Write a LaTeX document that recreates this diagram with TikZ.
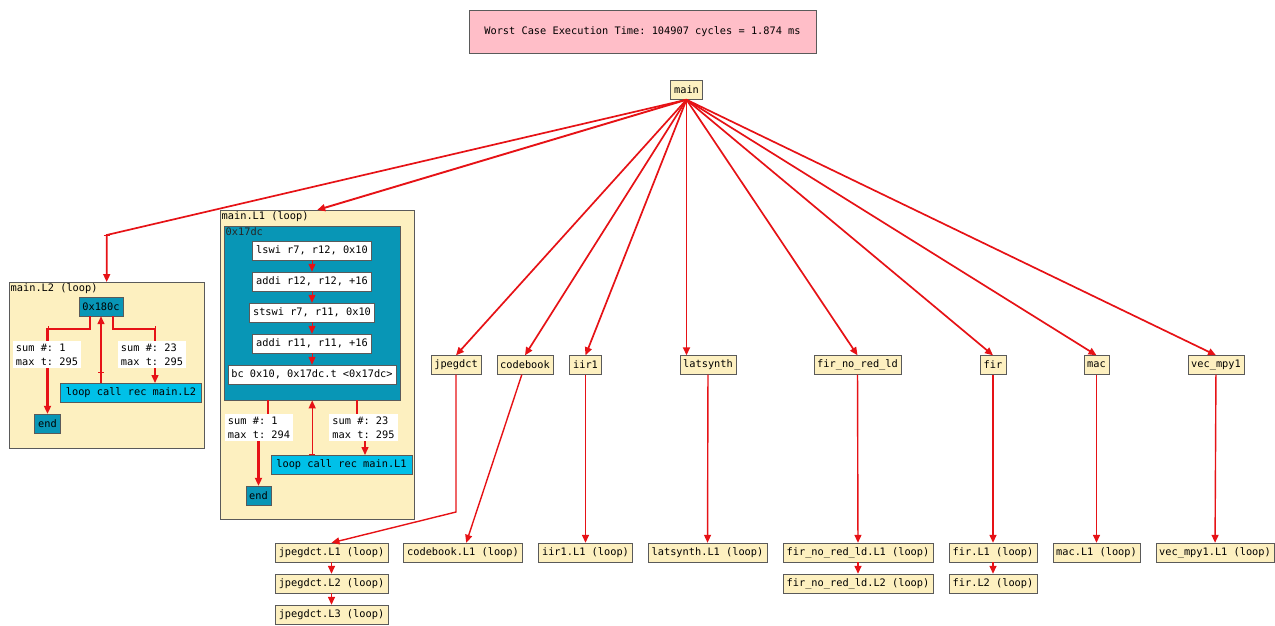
\documentclass[tikz,border=0pt]{standalone}
\usepackage{fontspec}
\setmonofont{DejaVu Sans Mono}
\usetikzlibrary{arrows.meta,positioning}
\definecolor{edgered}{RGB}{230,18,22}
\definecolor{boxyellow}{RGB}{253,240,192}
\definecolor{boxgray}{RGB}{90,90,90}
\definecolor{bbteal}{RGB}{8,150,182}
\definecolor{callcyan}{RGB}{0,192,232}
\definecolor{titlepink}{RGB}{255,190,200}
\begin{document}
\begin{tikzpicture}[x=1pt, y=-1pt, node distance=31pt,
    every node/.style={font=\ttfamily\fontsize{10.3}{12.5}\selectfont},
    fn/.style={rectangle, draw=boxgray, fill=boxyellow, minimum height=19pt, inner xsep=3.5pt, inner ysep=0pt},
    instr/.style={rectangle, draw=boxgray, fill=white, minimum height=19pt, inner xsep=3.5pt, inner ysep=0pt},
    bblock/.style={rectangle, draw=boxgray, fill=bbteal, minimum height=19pt, inner xsep=3.5pt, inner ysep=0pt},
    callrec/.style={rectangle, draw=boxgray, fill=callcyan, minimum height=19pt, inner xsep=5.5pt, inner ysep=0pt},
    cluster/.style={rectangle, draw=boxgray, fill=boxyellow, anchor=north west, inner sep=0pt},
    clusterlbl/.style={anchor=north west, inner sep=1.5pt},
    sumlbl/.style={rectangle, fill=white, align=left, inner xsep=3pt, inner ysep=2.5pt, font=\ttfamily\fontsize{10.3}{14}\selectfont},
    redline/.style={draw=edgered, line width=1.4pt},
    redarrow/.style={redline, -{Triangle[length=8pt,width=7pt]}}]
    \useasboundingbox (0,0) rectangle (1275,625);

    % title and root
    \node[rectangle, draw=boxgray, fill=titlepink, minimum width=347pt, minimum height=43pt](wcet) at (642.5,31.5){Worst Case Execution Time: 104907 cycles = 1.874 ms};
    \node[fn](main) at (686.5,90){main};

    % functions and their loops
    \foreach \n/\x/\t in {jpegdct/456/jpegdct, codebook/525/codebook, iir1/585.5/iir1, latsynth/708/latsynth, fir_no_red_ld/857.5/fir\_no\_red\_ld, fir/993/fir, mac/1096.5/mac, vec_mpy1/1216/vec\_mpy1}{
        \node[fn](\n) at (\x,365){\t};}
    \foreach \n/\x/\t in {jpegdct/331.5/jpegdct, codebook/463/codebook, iir1/585.5/iir1, latsynth/707.5/latsynth, fir_no_red_ld/858/fir\_no\_red\_ld, fir/993/fir, mac/1096.5/mac, vec_mpy1/1215/vec\_mpy1}{
        \node[fn](\n L1) at (\x,552.5){\t.L1 (loop)};}
    \node[fn](jpegdctL2)[below of=jpegdctL1]{jpegdct.L2 (loop)};
    \node[fn](jpegdctL3)[below of=jpegdctL2]{jpegdct.L3 (loop)};
    \node[fn](fir_no_red_ldL2)[below of=fir_no_red_ldL1]{fir\_no\_red\_ld.L2 (loop)};
    \node[fn](firL2)[below of=firL1]{fir.L2 (loop)};

    % main.L2 cluster
    \node[cluster, minimum width=195pt, minimum height=166pt](L2) at (9,282){};
    \node[clusterlbl](L2lbl) at (L2.north west){main.L2 (loop)};
    \node[bblock](n180c) at (101,306.5){0x180c};
    \node[bblock](endL2) at (47.5,423.5){end};
    \node[callrec](callL2) at (131,392.5){loop call rec main.L2};
    \coordinate (L2bend) at (L2.north |- 0,235);
    \coordinate (L2outa) at (90,316);
    \coordinate (L2outb) at (113,316);
    \coordinate (L2inb) at (155,383);
    \coordinate (L2back) at (n180c.south |- 0,372);

    % main.L1 cluster
    \node[cluster, minimum width=194pt, minimum height=309pt](L1) at (220,210){};
    \node[clusterlbl](L1lbl) at (L1.north west){main.L1 (loop)};
    \node[cluster, fill=bbteal, minimum width=176pt, minimum height=174pt](bb17dc) at (224,226){};
    \node[clusterlbl, text=black!85](bb17dclbl) at (bb17dc.north west){0x17dc};
    \node[instr](i1) at (312,250.5){lswi r7, r12, 0x10};
    \node[instr](i2)[below of=i1]{addi r12, r12, +16};
    \node[instr](i3)[below of=i2]{stswi r7, r11, 0x10};
    \node[instr](i4)[below of=i3]{addi r11, r11, +16};
    \node[instr](i5)[below of=i4]{bc 0x10, 0x17dc.t <0x17dc>};
    \node[bblock](endL1) at (258.5,495.5){end};
    \node[callrec](callL1) at (341.5,464.5){loop call rec main.L1};
    \coordinate (L1outa) at (268,400);
    \coordinate (L1outb) at (357,400);
    \coordinate (L1inb) at (365,455);
    \coordinate (L1back) at (bb17dc.south |- 0,454);

% call edges
\draw[redarrow, line width=1.7pt] (main.south) -- (L2bend) -- (L2.north);
\draw[redarrow, line width=1.9pt] (main.south) -- (L1.north);
\foreach \n in {jpegdct, codebook, iir1, fir_no_red_ld, fir, mac, vec_mpy1}{
    \draw[redarrow, line width=1.7pt] (main.south) -- (\n.north);}
\draw[redarrow, line width=1.7pt] (main) -- (main.south |- latsynth.north);
\draw[redarrow] (jpegdct.south) -- (jpegdct.south |- 0,512) -- (jpegdctL1.north);
\foreach \n in {codebook, iir1, latsynth, fir_no_red_ld, fir, mac, vec_mpy1}{
    \draw[redarrow] (\n) -- (\n L1);}
\foreach \s/\t in {jpegdctL1/jpegdctL2, jpegdctL2/jpegdctL3, fir_no_red_ldL1/fir_no_red_ldL2, firL1/firL2}{
    \draw[redarrow] (\s) -- (\t);}

% loop edges
\foreach \s/\t in {i1/i2, i2/i3, i3/i4, i4/i5}{
    \draw[redarrow, line width=1pt] (\s) -- (\t);}
\draw[redarrow, line width=2.2pt] (L2outa) -- ++(0,13) -| (endL2.north);
\draw[redarrow] (L2outb) -- ++(0,13) -| (L2inb);
\draw[redarrow] (n180c.south |- callL2.north) -- (n180c.south);
\draw[redarrow, line width=2.2pt] (L1outa) -- (L1outa |- 0,427) -- (endL1.north |- 0,427) -- (endL1.north);
\draw[redarrow] (L1outb) -- (L1outb |- 0,427) -- (L1inb |- 0,427) -- (L1inb);
\draw[redarrow] (bb17dc.south |- callL1.north) -- (bb17dc.south);
\foreach \s in {L2bend, L2back, L1back}{
    \draw[redline, line width=1pt] (\s) ++(-3,0) -- ++(6,0);}
\foreach \s in {48,155}{
    \draw[redline, line width=1pt] (\s,326) -- (\s,333);}

% edge labels
    \node[sumlbl](lblL2a) at (47,354.5){sum \#: 1\\max t: 295};
    \node[sumlbl](lblL2b) at (152,354.5){sum \#: 23\\max t: 295};
    \node[sumlbl](lblL1a) at (259,427.5){sum \#: 1\\max t: 294};
    \node[sumlbl](lblL1b) at (363.5,427.5){sum \#: 23\\max t: 295};
\end{tikzpicture}
\end{document}
